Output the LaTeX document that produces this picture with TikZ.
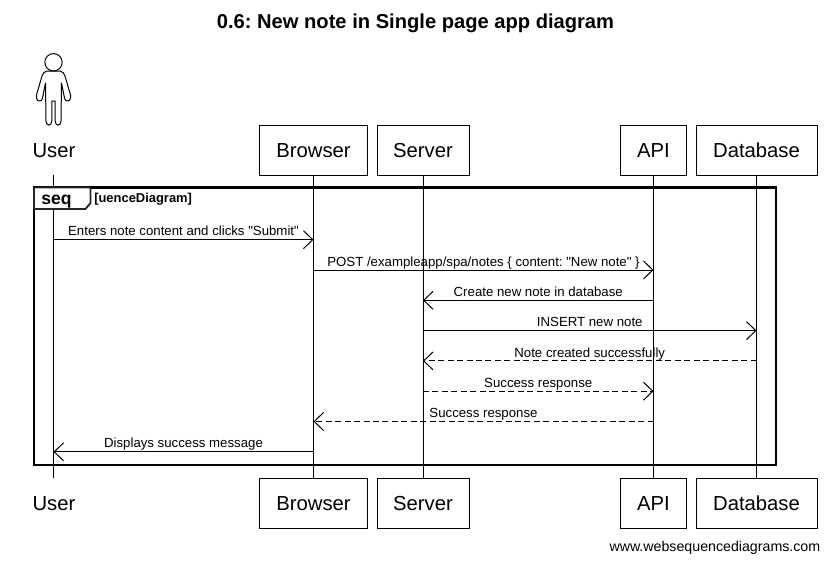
\documentclass[tikz,border=0pt]{standalone}
\usepackage{fontspec}
\setmainfont{Liberation Sans}[Ligatures=TeXOff]
\usetikzlibrary{arrows.meta}
\frenchspacing
\tikzset{
  x=0.75pt,y=-0.75pt,
  line/.style={line width=0.75pt,black},
  actorbox/.style={draw,line width=0.75pt,fill=white,minimum height=37.5pt,inner sep=0pt,font=\fontsize{15.2}{18}\selectfont,text height=11pt,text depth=0pt},
  actorlabel/.style={font=\fontsize{15.2}{18}\selectfont,inner sep=0pt,text height=11pt,text depth=0pt},
  life/.style={line},
  msg/.style={line,-{Straight Barb[length=7pt,width=13.5pt,line width=0.75pt]}},
  reply/.style={msg,dash pattern=on 4.5pt off 2.6pt},
  msgtext/.style={midway,anchor=base,yshift=2.9pt,inner sep=0pt,font=\fontsize{9.92}{12}\selectfont},
  frameline/.style={line width=1.7pt,black},
  tabline/.style={line width=1.4pt,black!85},
}
\begin{document}
\begin{tikzpicture}
\useasboundingbox (0,0) rectangle (830,561);
\node[font=\bfseries\fontsize{15.1}{18}\selectfont,inner sep=0pt] (title) at (415.5,23) {0.6: New note in Single page app diagram};
% top participants
\node[actorlabel] (userT) at (54,150) {User};
\node[actorbox,minimum width=80.5pt] (browserT) at (313.5,150) {Browser};
\node[actorbox,minimum width=69pt] (serverT) at (423,150) {Server};
\node[actorbox,minimum width=49.75pt] (apiT) at (653.5,150) {API};
\node[actorbox,minimum width=90.75pt] (dbT) at (756.5,150) {Database};
% bottom participants
\node[actorlabel] (userB) at (54,503) {User};
\node[actorbox,minimum width=80.5pt] (browserB) at (313.5,503) {Browser};
\node[actorbox,minimum width=69pt] (serverB) at (423,503) {Server};
\node[actorbox,minimum width=49.75pt] (apiB) at (653.5,503) {API};
\node[actorbox,minimum width=90.75pt] (dbB) at (756.5,503) {Database};
% stick figure
\draw[line,line join=round] (53.5,62.3) circle[radius=8.7];
\draw[line,line join=round] (47,71) .. controls (44,72) and (43,73) .. (42,76)
  -- (36.5,95) -- (36.5,98) .. controls (36.5,102) and (42.5,102) .. (42.5,98)
  -- (45.5,83) -- (46,121) .. controls (46,126.5) and (51.8,126.5) .. (51.8,121)
  -- (51.8,101) -- (55.2,101) -- (55.2,121) .. controls (55.2,126.5) and (61,126.5) .. (61,121)
  -- (61.5,83) -- (64.5,98) .. controls (64.5,102) and (70.5,102) .. (70.5,98)
  -- (70.5,95) -- (65,76) .. controls (64,73) and (63,72) .. (60,71) -- cycle;
% lifelines
\coordinate (userA) at (53.5,175);
\coordinate (userZ) at (53.5,478);
\draw[life] (userA) -- (userZ);
\draw[life] (browserT) -- (browserB);
\draw[life] (serverT) -- (serverB);
\draw[life] (apiT) -- (apiB);
\draw[life] (dbT) -- (dbB);
% frame
\draw[frameline] (34,187.5) rectangle (776,465);
\draw[tabline,line join=bevel,fill=white] (34,187.5) -- (90.5,187.5) -- (90.5,203) -- (85.5,209) -- (34,209) -- cycle;
\node[anchor=base west,inner sep=0pt,font=\bfseries\fontsize{13.2}{15}\selectfont] (seqtag) at (41,204) {seq};
\node[anchor=base west,inner sep=0pt,font=\bfseries\fontsize{9.7}{11}\selectfont] (seqname) at (94,202) {[uenceDiagram]};
% message ends
\coordinate (m1a) at (userA |- 0,239.7);   \coordinate (m1b) at (browserT |- 0,239.7);
\coordinate (m2a) at (browserT |- 0,270);\coordinate (m2b) at (apiT |- 0,270);
\coordinate (m3a) at (apiT |- 0,300.3);    \coordinate (m3b) at (serverT |- 0,300.3);
\coordinate (m4a) at (serverT |- 0,330.6); \coordinate (m4b) at (dbT |- 0,330.6);
\coordinate (m5a) at (dbT |- 0,360.9);     \coordinate (m5b) at (serverT |- 0,360.9);
\coordinate (m6a) at (serverT |- 0,391.2); \coordinate (m6b) at (apiT |- 0,391.2);
\coordinate (m7a) at (apiT |- 0,421.5);    \coordinate (m7b) at (browserT |- 0,421.5);
\coordinate (m8a) at (browserT |- 0,451.8);\coordinate (m8b) at (userA |- 0,451.8);
\draw[msg] (m1a) -- node[msgtext] {Enters note content and clicks "Submit"} (m1b);
\draw[msg] (m2a) -- node[msgtext] {POST /exampleapp/spa/notes \{ content: "New note" \}} (m2b);
\draw[msg] (m3a) -- node[msgtext] {Create new note in database} (m3b);
\draw[msg] (m4a) -- node[msgtext] {INSERT new note} (m4b);
\draw[reply] (m5a) -- node[msgtext] {Note created successfully} (m5b);
\draw[reply] (m6a) -- node[msgtext] {Success response} (m6b);
\draw[reply] (m7a) -- node[msgtext] {Success response} (m7b);
\draw[msg] (m8a) -- node[msgtext] {Displays success message} (m8b);
\node[anchor=east,inner sep=0pt,font=\fontsize{10.65}{12}\selectfont] (credit) at (820.5,547.7) {www.websequencediagrams.com};
\end{tikzpicture}
\end{document}
